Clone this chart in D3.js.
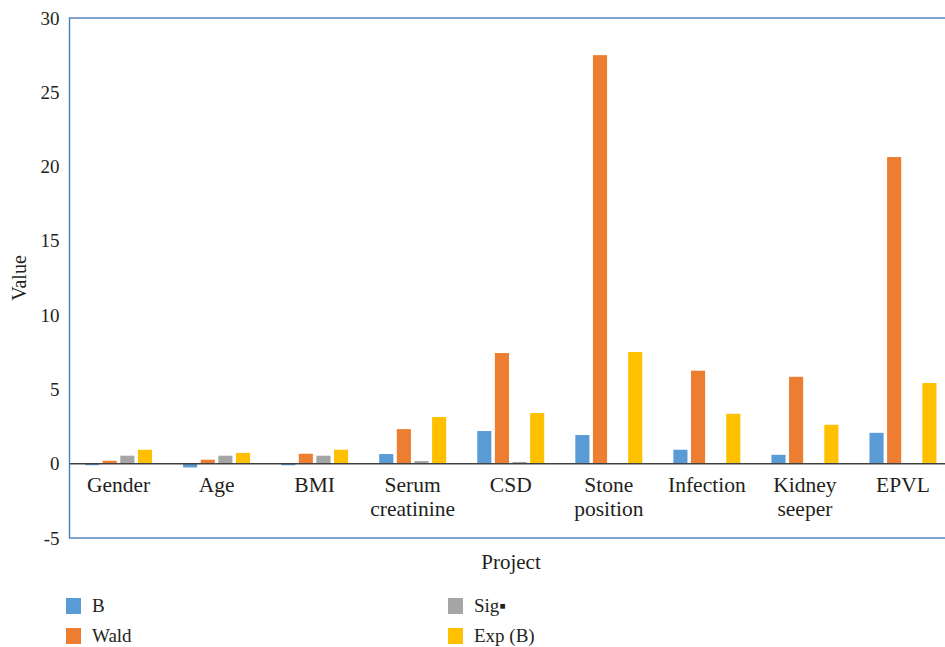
<!DOCTYPE html>
<html>
<head>
<meta charset="utf-8">
<script src="https://cdn.jsdelivr.net/npm/d3@7"></script>
<style>
  html, body { margin: 0; padding: 0; background: #fff; }
  svg { display: block; }
</style>
</head>
<body>
<svg id="chart" width="945" height="647"></svg>
<script>
// Regression factors and their statistics
const categories = ["Gender", "Age", "BMI", "Serum\ncreatinine", "CSD", "Stone\nposition", "Infection", "Kidney\nseeper", "EPVL"];
const seriesNames = ["B", "Wald", "Sig▪", "Exp (B)"];
const seriesColors = ["#5b9bd5", "#ed7d31", "#a5a5a5", "#ffc000"];
const valuesB    = [-0.10, -0.25, -0.10, 0.65, 2.20, 1.93, 0.94, 0.60, 2.08];
const valuesWald = [0.20, 0.27, 0.67, 2.33, 7.45, 27.50, 6.26, 5.85, 20.64];
const valuesSig  = [0.54, 0.54, 0.54, 0.18, 0.12, 0.00, 0.03, 0.00, 0.00];
const valuesExpB = [0.94, 0.73, 0.94, 3.14, 3.41, 7.52, 3.36, 2.62, 5.43];
const yTicks = [-5, 0, 5, 10, 15, 20, 25, 30];

const FONT = "'Liberation Serif', 'DejaVu Serif', serif";
const INK = "#231f20";

const seriesValues = [valuesB, valuesWald, valuesSig, valuesExpB];
const rows = categories.map((c, i) => ({ cat: c, vals: seriesValues.map(s => s[i]) }));

const svg = d3.select("#chart");
const plot = { left: 69.5, top: 18, right: 952, bottom: 538 };

const x0 = d3.scaleBand()
  .domain(categories)
  .range([plot.left, plot.right])
  .paddingInner(0.317)
  .paddingOuter(0.1585);

const x1 = d3.scaleBand()
  .domain(d3.range(seriesNames.length))
  .range([0, x0.bandwidth()])
  .paddingInner(0.2);

const y = d3.scaleLinear().domain([-5, 30]).range([plot.bottom, plot.top]);

// Bars
const groups = svg.append("g").selectAll("g")
  .data(rows).join("g")
  .attr("transform", d => `translate(${x0(d.cat)},0)`);

groups.selectAll("rect")
  .data(d => d.vals.map((v, k) => ({ v, k })))
  .join("rect")
  .attr("x", d => x1(d.k))
  .attr("width", x1.bandwidth())
  .attr("y", d => y(Math.max(0, d.v)))
  .attr("height", d => Math.abs(y(d.v) - y(0)))
  .attr("fill", d => seriesColors[d.k]);

// Zero baseline
svg.append("line")
  .attr("x1", plot.left).attr("x2", plot.right)
  .attr("y1", y(0)).attr("y2", y(0))
  .attr("stroke", "#404040").attr("stroke-width", 1.5);

// Plot frame
svg.append("rect")
  .attr("x", plot.left).attr("y", plot.top)
  .attr("width", plot.right - plot.left)
  .attr("height", plot.bottom - plot.top)
  .attr("fill", "none")
  .attr("stroke", "#4a7ebb").attr("stroke-width", 1.4);

// Y axis labels
const yAxis = d3.axisLeft(y).tickValues(yTicks).tickFormat(d => String(d)).tickSize(0).tickPadding(10);
const gy = svg.append("g").attr("transform", `translate(${plot.left},0)`).call(yAxis)
  .attr("font-family", FONT).attr("font-size", 19);
gy.select(".domain").remove();
gy.selectAll("text").attr("fill", INK);

// Category labels (multi-line)
const catLabels = svg.append("g")
  .attr("font-family", FONT).attr("font-size", 21.5).attr("fill", INK)
  .selectAll("text")
  .data(categories).join("text")
  .attr("text-anchor", "middle")
  .attr("x", d => x0(d) + x0.bandwidth() / 2)
  .attr("y", 492);
catLabels.each(function(d) {
  const t = d3.select(this);
  d.split("\n").forEach((line, i) => {
    t.append("tspan")
      .attr("x", x0(d) + x0.bandwidth() / 2)
      .attr("dy", i === 0 ? 0 : 24)
      .text(line);
  });
});

// Axis titles
svg.append("text")
  .attr("x", 511).attr("y", 569)
  .attr("text-anchor", "middle")
  .attr("font-family", FONT).attr("font-size", 21).attr("fill", INK)
  .text("Project");

svg.append("text")
  .attr("transform", "translate(26,278) rotate(-90)")
  .attr("text-anchor", "middle")
  .attr("font-family", FONT).attr("font-size", 20).attr("fill", INK)
  .text("Value");

// Legend
const legendPos = [
  { x: 66, y: 598 },
  { x: 66, y: 628 },
  { x: 448, y: 598 },
  { x: 448, y: 628 }
];
const legend = svg.append("g")
  .attr("font-family", FONT).attr("font-size", 19).attr("fill", INK)
  .selectAll("g")
  .data(seriesNames).join("g")
  .attr("transform", (d, i) => `translate(${legendPos[i].x},${legendPos[i].y})`);
legend.append("rect")
  .attr("width", 15).attr("height", 16)
  .attr("fill", (d, i) => seriesColors[i]);
legend.append("text")
  .attr("x", 26).attr("y", 14)
  .text(d => d);
</script>
</body>
</html>
